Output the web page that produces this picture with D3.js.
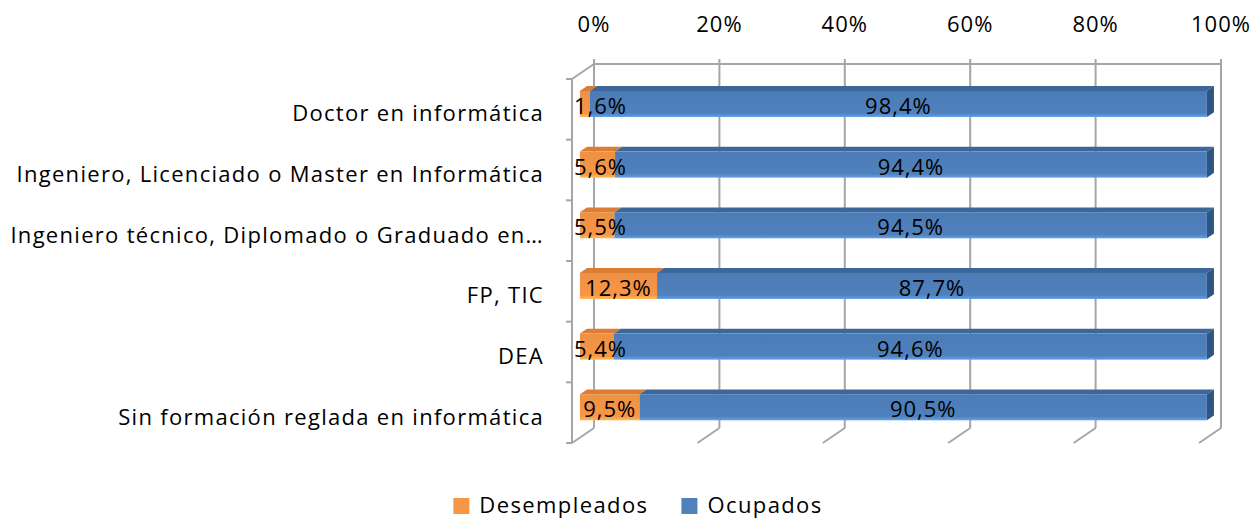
<!DOCTYPE html>
<meta charset="utf-8" />
<script src="https://d3js.org/d3.v7.min.js"></script>
<style>
  html, body { margin: 0; padding: 0; background: #fff; overflow: hidden; }
  text { font-family: "Open Sans", sans-serif; fill: #000; }
</style>
<div id="chart"></div>
<script>
  var categories = [
    "Doctor en informática",
    "Ingeniero, Licenciado o Master en Informática",
    "Ingeniero técnico, Diplomado o Graduado en…",
    "FP, TIC",
    "DEA",
    "Sin formación reglada en informática"
  ];
  var desempleados = [1.6, 5.6, 5.5, 12.3, 5.4, 9.5];
  var ocupados = [98.4, 94.4, 94.5, 87.7, 94.6, 90.5];
  var series = ["Desempleados", "Ocupados"];
  var tickValues = [0, 20, 40, 60, 80, 100];

  var width = 1259, height = 520;
  var DX = 22, DY = -15;       // full depth of the 3D box
  var dFront = 0.36, dBack = 0.68; // depth of bars inside the box

  var svg = d3.select("#chart").append("svg")
    .attr("width", width).attr("height", height);

  var x = d3.scaleLinear().domain([0, 100]).range([572, 1199]);
  var y = d3.scaleBand().domain(categories).range([79, 443])
    .paddingInner(0.57).paddingOuter(0.285);
  var yEdge = d3.scaleBand().domain(categories).range([79, 443]);
  var color = d3.scaleOrdinal().domain(series).range(["#F79646", "#4F81BD"]);
  var topColor = d3.scaleOrdinal().domain(series).range(["#DD7C33", "#3D6799"]);
  var sideColor = d3.scaleOrdinal().domain(series).range(["#B9651F", "#2F5581"]);

  var y0 = 79, y1 = 443;
  var grid = "#a6a6a6";

  // gradient for front faces
  var defs = svg.append("defs");
  series.forEach(function(s, i) {
    var g = defs.append("linearGradient").attr("id", "grad" + i)
      .attr("x1", 0).attr("y1", 0).attr("x2", 0).attr("y2", 1);
    var c = d3.color(color(s));
    g.append("stop").attr("offset", "0%").attr("stop-color", c.darker(0.1));
    g.append("stop").attr("offset", "85%").attr("stop-color", c);
    g.append("stop").attr("offset", "100%").attr("stop-color", c.brighter(0.6));
  });

  // back wall gridlines
  var walls = svg.append("g").attr("stroke", grid).attr("stroke-width", 2).attr("fill", "none");
  walls.selectAll("line.grid").data(tickValues).enter().append("line")
    .attr("x1", function(d) { return x(d) + DX; })
    .attr("x2", function(d) { return x(d) + DX; })
    .attr("y1", y0 + DY).attr("y2", y1 + DY);
  // floor diagonals
  walls.selectAll("line.floor").data(tickValues).enter().append("line")
    .attr("x1", function(d) { return x(d) + DX; })
    .attr("y1", y1 + DY)
    .attr("x2", function(d) { return x(d); })
    .attr("y2", y1);
  // top edge + ticks
  walls.append("line")
    .attr("x1", x(0) + DX).attr("x2", x(100) + DX)
    .attr("y1", y0 + DY).attr("y2", y0 + DY);
  walls.selectAll("line.tt").data(tickValues).enter().append("line")
    .attr("x1", function(d) { return x(d) + DX; })
    .attr("x2", function(d) { return x(d) + DX; })
    .attr("y1", y0 + DY - 5).attr("y2", y0 + DY);
  // left wall
  walls.append("line").attr("x1", x(0)).attr("x2", x(0) + DX)
    .attr("y1", y0).attr("y2", y0 + DY);
  walls.append("line").attr("x1", x(0)).attr("x2", x(0))
    .attr("y1", y0).attr("y2", y1);
  var edges = categories.map(function(c) { return yEdge(c); }).concat([y1]);
  walls.selectAll("line.lt").data(edges).enter().append("line")
    .attr("x1", x(0) - 6).attr("x2", x(0))
    .attr("y1", function(d) { return d; }).attr("y2", function(d) { return d; });

  // stacked data
  var rows = categories.map(function(c, i) {
    return { cat: c, Desempleados: desempleados[i], Ocupados: ocupados[i] };
  });
  var stacked = d3.stack().keys(series)(rows);

  var fx = function(v, d) { return x(v) + DX * d; };
  var fy = function(v, d) { return v + DY * d; };

  var bars = svg.append("g");
  stacked.forEach(function(layer, si) {
    var s = layer.key;
    layer.forEach(function(seg) {
      var cat = seg.data.cat;
      var top = y(cat), bot = y(cat) + y.bandwidth();
      var a = seg[0], b = seg[1];
      // top face
      bars.append("polygon")
        .attr("points", [
          [fx(a, dFront), fy(top, dFront)], [fx(b, dFront), fy(top, dFront)],
          [fx(b, dBack), fy(top, dBack)], [fx(a, dBack), fy(top, dBack)]
        ].join(" "))
        .attr("fill", topColor(s));
      // right side face (only visible at the end of the stack)
      if (si === series.length - 1) {
        bars.append("polygon")
          .attr("points", [
            [fx(b, dFront), fy(top, dFront)], [fx(b, dBack), fy(top, dBack)],
            [fx(b, dBack), fy(bot, dBack)], [fx(b, dFront), fy(bot, dFront)]
          ].join(" "))
          .attr("fill", sideColor(s));
      }
      // front face
      bars.append("rect")
        .attr("x", fx(a, dFront)).attr("y", fy(top, dFront))
        .attr("width", x(b) - x(a)).attr("height", y.bandwidth())
        .attr("fill", "url(#grad" + si + ")");
    });
  });

  // data labels
  var labels = svg.append("g").attr("font-size", 22).attr("letter-spacing", 1);
  stacked.forEach(function(layer) {
    layer.forEach(function(seg) {
      var cat = seg.data.cat;
      var v = seg[1] - seg[0];
      var t = labels.append("text")
        .attr("text-anchor", "middle")
        .attr("dominant-baseline", "central")
        .attr("y", fy(y(cat) + y.bandwidth() / 2, dFront) + 1)
        .text(d3.format(".1f")(v).replace(".", ",") + "%");
      var w = t.node().getComputedTextLength();
      var cx = (fx(seg[0], dFront) + fx(seg[1], dFront)) / 2;
      cx = Math.max(cx, fx(seg[0], dFront) + w / 2 - 6);
      t.attr("x", cx);
    });
  });

  // category labels
  svg.append("g").attr("font-size", 22).selectAll("text")
    .data(categories).enter().append("text")
    .attr("text-anchor", "end")
    .attr("dominant-baseline", "central")
    .attr("letter-spacing", 1.3)
    .attr("x", 544)
    .attr("y", function(d) { return yEdge(d) + yEdge.bandwidth() / 2 + 3; })
    .text(function(d) { return d; });

  // top axis labels
  svg.append("g").attr("font-size", 22).selectAll("text")
    .data(tickValues).enter().append("text")
    .attr("text-anchor", "middle")
    .attr("letter-spacing", 1)
    .attr("x", function(d) { return x(d) + DX; })
    .attr("y", 32)
    .text(function(d) { return d + "%"; });

  // legend
  var legend = svg.append("g").attr("font-size", 22);
  var lx = 0;
  series.forEach(function(s) {
    var g = legend.append("g");
    g.append("rect").attr("width", 16).attr("height", 16).attr("y", -15)
      .attr("fill", color(s));
    var t = g.append("text").attr("x", 26).attr("y", 0).attr("letter-spacing", 1.4).text(s);
    var w = 26 + t.node().getComputedTextLength();
    g.attr("transform", "translate(" + lx + ",0)");
    lx += w + 33;
  });
  var total = lx - 33;
  legend.attr("transform", "translate(" + (638 - total / 2) + "," + 513 + ")");
</script>
